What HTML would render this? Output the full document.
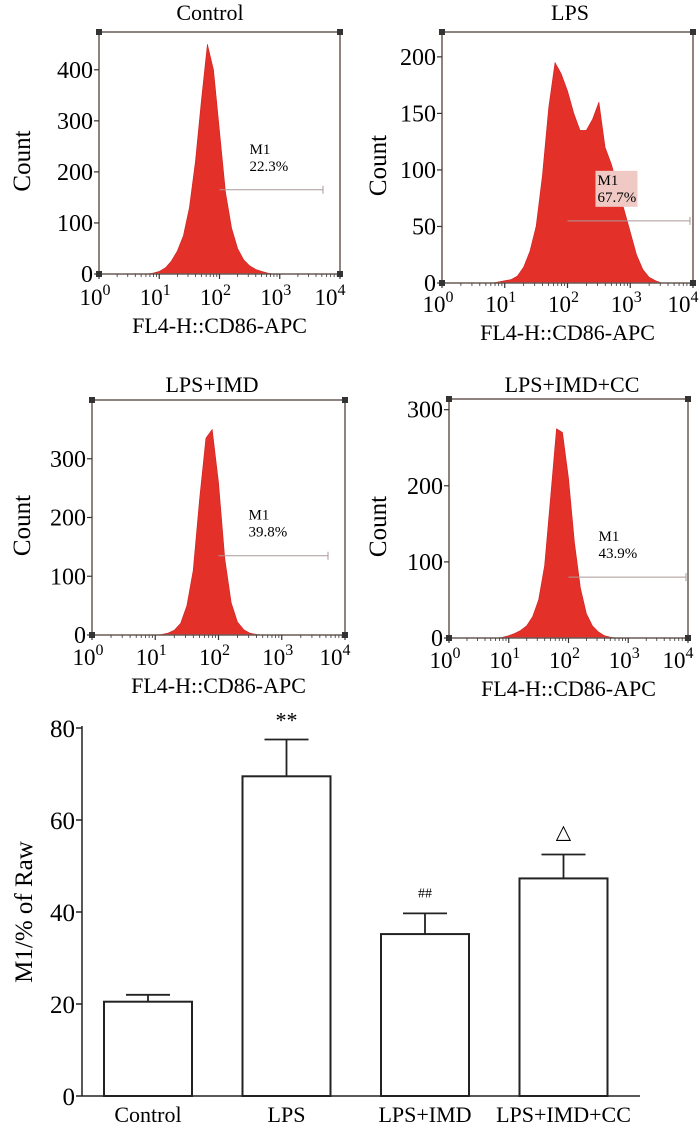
<!DOCTYPE html>
<html><head><meta charset="utf-8"><style>
body{margin:0;background:#fff}
svg{display:block;font-family:"Liberation Serif",serif}
</style></head><body>
<svg id="fig" width="700" height="1127" viewBox="0 0 700 1127"></svg>
<script>
// Histogram data: counts sampled on log10 grid starting at 0.8 step 0.1
const logStart = 0.8, logStep = 0.1;
const countsControl = [0,2,5,12,25,45,75,130,220,340,450,400,280,160,90,50,28,16,9,5,2,0,0,0,0,0,0,0];
const countsLPS = [0,1,2,3,6,14,28,50,95,155,195,185,170,150,135,135,145,160,120,105,85,65,45,25,12,5,2,0];
const countsIMD = [0,0,0,1,3,8,20,50,110,230,335,350,260,130,55,22,9,3,1,0,0,0,0,0,0,0,0,0];
const countsCC = [0,1,3,6,10,16,28,50,95,185,275,270,210,125,65,32,16,8,3,1,0,0,0,0,0,0,0,0];
const histTitles = ["Control","LPS","LPS+IMD","LPS+IMD+CC"];
const m1Labels = ["22.3%","67.7%","39.8%","43.9%"];
const gateStart = [2.0,2.0,2.0,2.0];
const gateY = [165,55,135,80];
const yTicksCtrl = [0,100,200,300,400];
const yTicksLPS = [0,50,100,150,200];
const yTicksIMD = [0,100,200,300];
const yTicksCC = [0,100,200,300];
// Bar chart data
const barCats = ["Control","LPS","LPS+IMD","LPS+IMD+CC"];
const barVals = [20.5,69.5,35.2,47.3];
const barErr = [1.5,8.0,4.5,5.2];
const barMarks = ["","**","##","\u25B3"];
const barTicks = [0,20,40,60,80];

const svg = document.getElementById('fig');
const NS = "http://www.w3.org/2000/svg";
function mk(tag, attrs, parent){const e=document.createElementNS(NS,tag);for(const k in attrs)e.setAttribute(k,attrs[k]);(parent||svg).appendChild(e);return e;}

const panels = [
 {x0:99,x1:340,top:32,bot:274,ymax:474,counts:countsControl,ticks:yTicksCtrl,tx:210,ty:20,lab:305,axlab:333,ylx:30},
 {x0:442,x1:693,top:32,bot:283,ymax:222,counts:countsLPS,ticks:yTicksLPS,tx:570,ty:20,lab:312,axlab:340,ylx:386},
 {x0:92,x1:345,top:400,bot:635,ymax:400,counts:countsIMD,ticks:yTicksIMD,tx:212,ty:392,lab:665,axlab:693,ylx:30},
 {x0:449,x1:688,top:399,bot:638,ymax:314,counts:countsCC,ticks:yTicksCC,tx:572,ty:392,lab:668,axlab:696,ylx:386}
];
panels.forEach((p,i)=>{
  const g = mk('g',{});
  
  
  const xs = l => p.x0 + (l/4)*(p.x1-p.x0);
  const ys = v => p.bot - v/p.ymax*(p.bot-p.top);
  let d = 'M'+xs(0)+','+p.bot+' L'+xs(logStart)+','+p.bot;
  p.counts.forEach((c,k)=>{d+=' L'+xs(logStart+k*logStep).toFixed(1)+','+ys(c).toFixed(1);});
  d+=' L'+xs(4)+','+p.bot+' Z';
  const area = mk('path',{d:d,fill:'#e3312a',stroke:'#c22',"stroke-width":0.6,"stroke-linejoin":"round"},g);
  
  
  const box = mk('rect',{x:p.x0,y:p.top,width:p.x1-p.x0,height:p.bot-p.top,fill:'none',stroke:'#6a5a55','stroke-width':1.5},g);
  
  
  [[p.x0,p.top],[p.x1,p.top],[p.x0,p.bot],[p.x1,p.bot]].forEach(c=>mk('rect',{x:c[0]-3,y:c[1]-3,width:6,height:6,fill:'#333'},g));
  const t = mk('text',{x:p.tx,y:p.ty,'text-anchor':'middle','font-size':22},g);
  t.textContent = histTitles[i];
  
  
  p.ticks.forEach(v=>{
    const y=ys(v);
    mk('line',{x1:p.x0-5,x2:p.x0,y1:y,y2:y,stroke:'#333','stroke-width':1.2},g);
    const tl=mk('text',{x:p.x0-6,y:y+8,'text-anchor':'end','font-size':24},g);
    tl.textContent=v;
    
    
  });
  for(let dec=0;dec<=4;dec++){
    const x=xs(dec);
    mk('line',{x1:x,x2:x,y1:p.bot,y2:p.bot+5,stroke:'#333','stroke-width':1.2},g);
    if(dec<4){for(let m=2;m<10;m++){const xm=xs(dec+Math.log10(m));mk('line',{x1:xm,x2:xm,y1:p.bot,y2:p.bot+3,stroke:'#333','stroke-width':0.8},g);}}
    const lx = dec==4 ? x-10 : x-4;
    const tl=mk('text',{x:lx,y:p.lab,'text-anchor':'middle','font-size':23},g);
    tl.innerHTML='10<tspan dy="-10" font-size="16">'+dec+'</tspan>';
    
    
  }
  const ax=mk('text',{x:(p.x0+p.x1)/2,y:p.axlab,'text-anchor':'middle','font-size':22},g);
  ax.textContent='FL4-H::CD86-APC';
  
  
  const cy=(p.top+p.bot)/2+8;
  const yl=mk('text',{x:p.ylx,y:cy,'text-anchor':'middle','font-size':25,transform:'rotate(-90 '+p.ylx+' '+cy+')'},g);
  yl.textContent='Count';
  
  
  const gy=ys(gateY[i]), gx0=xs(gateStart[i]), gx1=p.x1-(i==1?3:(i==3?2:17));
  const gl=mk('line',{x1:gx0,x2:gx1,y1:gy,y2:gy,stroke:'#a99','stroke-width':1},g);
  
  
  mk('line',{x1:gx1,x2:gx1,y1:gy-4,y2:gy+4,stroke:'#a99','stroke-width':1},g);
  const lx=gx0+30, ly=gy-28;
  if(i==1) mk('rect',{x:lx-2,y:ly-22,width:42,height:36,fill:'#f0c8c4'},g);
  const m=mk('text',{x:lx,y:ly-8,'font-size':15},g); m.textContent='M1';
  
  
  const pc=mk('text',{x:lx,y:ly+9,'font-size':15},g); pc.textContent=m1Labels[i];
  
  
});

// Bar chart
const bx0=82, bx1=640, by0=1096, by80=728;
const yb = v => by0 - v/80*(by0-by80);
const xb = i => 148 + i*138.5;
const bg = mk('g',{});


mk('line',{x1:bx0,x2:bx0,y1:by80-2,y2:by0,stroke:'#222','stroke-width':1.5},bg);
mk('line',{x1:bx0,x2:bx1,y1:by0,y2:by0,stroke:'#222','stroke-width':1.5},bg);
barTicks.forEach(v=>{
  const y=yb(v);
  mk('line',{x1:bx0-6,x2:bx0,y1:y,y2:y,stroke:'#222','stroke-width':1.5},bg);
  const t=mk('text',{x:bx0-7,y:y+9,'text-anchor':'end','font-size':25},bg);
  t.textContent=v;
  
  
});
const yt=mk('text',{x:32,y:912,'text-anchor':'middle','font-size':25,transform:'rotate(-90 32 912)'},bg);
yt.textContent='M1/% of Raw';


const bw=88;
barCats.forEach((c,i)=>{
  const cx=xb(i);
  const top=yb(barVals[i]), et=yb(barVals[i]+barErr[i]);
  mk('line',{x1:cx,x2:cx,y1:top,y2:et,stroke:'#222','stroke-width':1.8},bg);
  mk('line',{x1:cx-22,x2:cx+22,y1:et,y2:et,stroke:'#222','stroke-width':1.8},bg);
  const r=mk('rect',{x:cx-bw/2,y:top,width:bw,height:by0-top,fill:'#fff',stroke:'#222','stroke-width':2},bg);
  
  
  const l=mk('text',{x:cx,y:1122,'text-anchor':'middle','font-size':22},bg);
  l.textContent=c;
  
  
  if(barMarks[i]){
    const s=mk('text',{x:cx,y:et-(i==1?12:16),'text-anchor':'middle','font-size':i==2?14:i==1?22:20},bg);
    s.textContent=barMarks[i];
    
    
  }
});
</script>
</body></html>
